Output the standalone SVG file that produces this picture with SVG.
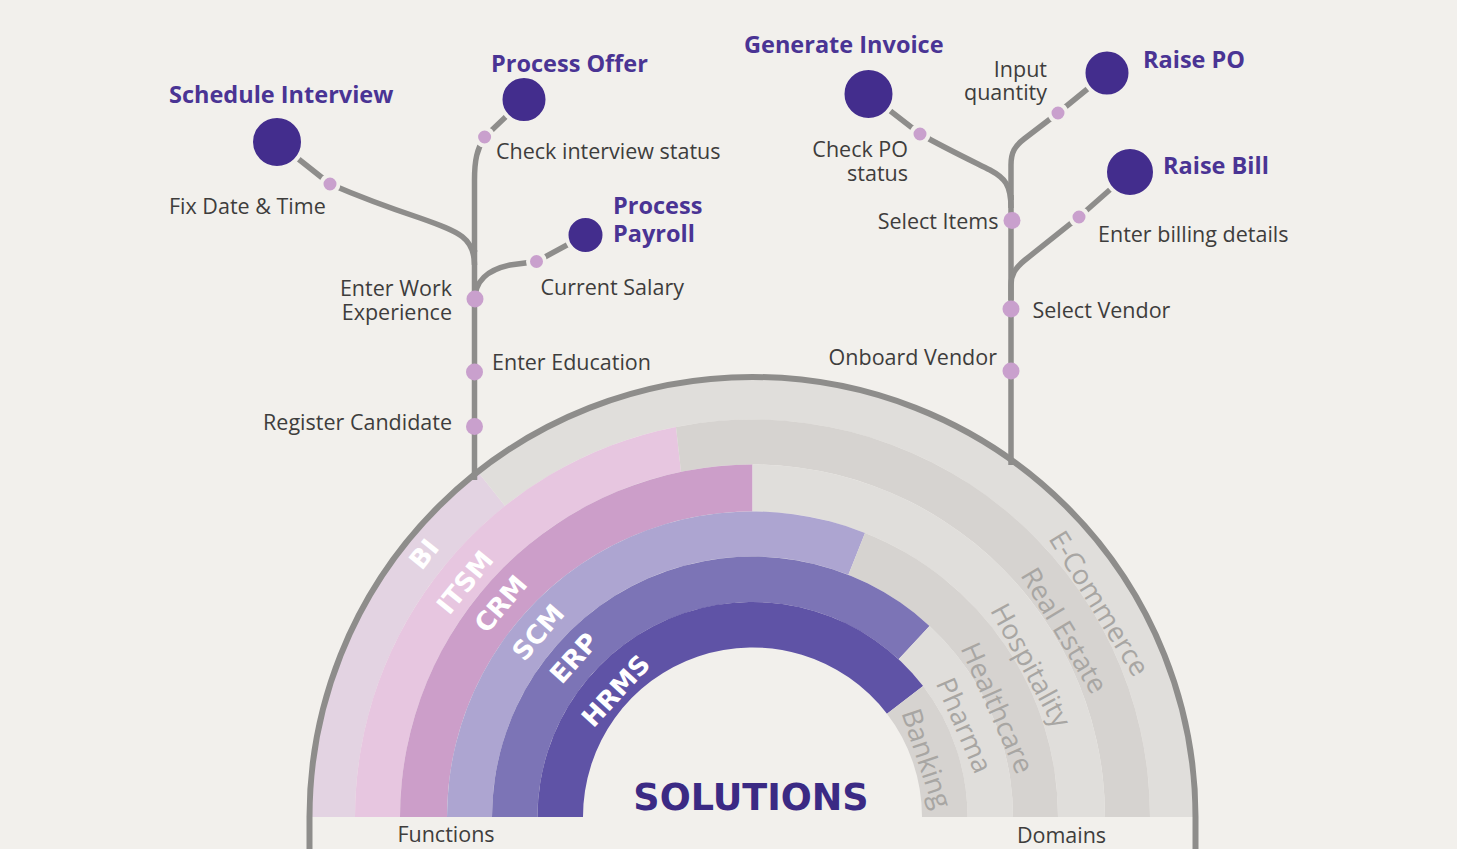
<svg xmlns="http://www.w3.org/2000/svg" width="1457" height="849" viewBox="0 0 1457 849">
<style>
.lbl{font-family:"Open Sans","Noto Sans",sans-serif;font-size:21.5px;fill:#3e3d3c}
.hd{font-family:"Open Sans","Noto Sans",sans-serif;font-size:23.5px;font-weight:700;fill:#4a3494}
.fn{font-family:"DejaVu Sans",sans-serif;font-size:26px;font-weight:700;fill:#ffffff}
.dm{font-family:"Open Sans","Noto Sans",sans-serif;font-size:27.5px;fill:#a8a6a3}
.ln{fill:none;stroke:#8e8d8b;stroke-width:5.5;stroke-linecap:butt}
.dot{fill:#c9a0cd}
.bdot{fill:#c9a0cd;stroke:#f2f0ec;stroke-width:4}
.ms{fill:#432d8d;stroke:#f2f0ec;stroke-width:4}
.g1{fill:#e0dedb}
.g2{fill:#d6d3d0}
</style>
<rect width="1457" height="849" fill="#f2f0ec"/>

<g id="rings">
  <g id="fn-bi"><path d="M311.5,817 A441,441 0 0 1 478.0,471.9 L505.1,505.9 A397.5,397.5 0 0 0 355,817 Z" fill="#e3d3e2"/></g>
  <g id="dm-ecommerce"><path class="g1" d="M478.0,471.9 A441,441 0 0 1 1193.5,817 L1150,817 A397.5,397.5 0 0 0 505.1,505.9 Z"/></g>
  <g id="fn-itsm"><path d="M355,817 A397.5,397.5 0 0 1 676,426.9 L681,471.8 A352.5,352.5 0 0 0 400,817 Z" fill="#e7c6e0"/></g>
  <g id="dm-realestate"><path class="g2" d="M676,426.9 A397.5,397.5 0 0 1 1150,817 L1105,817 A352.5,352.5 0 0 0 681,471.8 Z"/></g>
  <g id="fn-crm"><path d="M400,817 A352.5,352.5 0 0 1 752.5,464.5 L752.5,511.5 A305.5,305.5 0 0 0 447,817 Z" fill="#cc9ec9"/></g>
  <g id="dm-hospitality"><path class="g1" d="M752.5,464.5 A352.5,352.5 0 0 1 1105,817 L1058,817 A305.5,305.5 0 0 0 752.5,511.5 Z"/></g>
  <g id="fn-scm"><path d="M447,817 A305.5,305.5 0 0 1 865.0,532.9 L848.4,574.8 A260.5,260.5 0 0 0 492,817 Z" fill="#ada5d1"/></g>
  <g id="dm-healthcare"><path class="g2" d="M865.0,532.9 A305.5,305.5 0 0 1 1058,817 L1013,817 A260.5,260.5 0 0 0 848.4,574.8 Z"/></g>
  <g id="fn-erp"><path d="M492,817 A260.5,260.5 0 0 1 929.5,625.9 L898.6,659.3 A215,215 0 0 0 537.5,817 Z" fill="#7c74b6"/></g>
  <g id="dm-pharma"><path class="g1" d="M929.5,625.9 A260.5,260.5 0 0 1 1013,817 L967.5,817 A215,215 0 0 0 898.6,659.3 Z"/></g>
  <g id="fn-hrms"><path d="M537.5,817 A215,215 0 0 1 923.1,686.1 L887.0,713.8 A169.5,169.5 0 0 0 583,817 Z" fill="#5f53a6"/></g>
  <g id="dm-banking"><path class="g2" d="M923.1,686.1 A215,215 0 0 1 967.5,817 L922,817 A169.5,169.5 0 0 0 887.0,713.8 Z"/></g>
</g>

<g id="ring-labels">
  <text class="fn" transform="translate(424,554) rotate(-51.3)" text-anchor="middle" dominant-baseline="central">BI</text>
  <text class="fn" transform="translate(465,582.5) rotate(-50.8)" text-anchor="middle" dominant-baseline="central">ITSM</text>
  <text class="fn" transform="translate(500.8,604) rotate(-49.8)" text-anchor="middle" dominant-baseline="central">CRM</text>
  <text class="fn" transform="translate(538.3,632.5) rotate(-49.3)" text-anchor="middle" dominant-baseline="central">SCM</text>
  <text class="fn" transform="translate(574,658) rotate(-48.3)" text-anchor="middle" dominant-baseline="central">ERP</text>
  <text class="fn" transform="translate(615.8,690.8) rotate(-47.3)" text-anchor="middle" dominant-baseline="central">HRMS</text>
  <text class="dm" transform="translate(1100,603) rotate(58.4)" text-anchor="middle" dominant-baseline="central">E-Commerce</text>
  <text class="dm" transform="translate(1065,630) rotate(59.1)" text-anchor="middle" dominant-baseline="central">Real Estate</text>
  <text class="dm" transform="translate(1031.7,665) rotate(61.4)" text-anchor="middle" dominant-baseline="central">Hospitality</text>
  <text class="dm" transform="translate(998.3,707.5) rotate(66)" text-anchor="middle" dominant-baseline="central">Healthcare</text>
  <text class="dm" transform="translate(965,725) rotate(66.6)" text-anchor="middle" dominant-baseline="central">Pharma</text>
  <text class="dm" transform="translate(927.5,758.3) rotate(71.5)" text-anchor="middle" dominant-baseline="central">Banking</text>
</g>

<g id="connectors">
  <path class="ln" d="M474.5,480 L474.5,250"/>
  <path class="ln" d="M474.5,252 L474.5,180 C474.5,160 477,149 484.6,137 L524,99.5"/>
  <path class="ln" d="M474.5,265 C474.5,238 460,232 420,218 C390,208 360,197 330,184 L277,142"/>
  <path class="ln" d="M474.5,302 C474.5,280 488,270 510,265 L536.5,261.5 L585.5,235"/>
  <path class="ln" d="M1011,465 L1011,195"/>
  <path class="ln" d="M1011,200 L1011,165 C1011,152 1015,146 1024,139 L1058,113 L1107,73"/>
  <path class="ln" d="M1011,208 C1011,185 1005,178 990,170 C970,160 945,148 920,134 L868.5,94"/>
  <path class="ln" d="M1011,300 L1011,285 C1011,275 1015,268 1025,260 L1079,217 L1130,172"/>
  <path d="M309.5,849 L309.5,817 A443,440 0 0 1 1195.5,817 L1195.5,849" fill="none" stroke="#8e8d8b" stroke-width="6"/>
</g>

<g id="step-register-candidate"><circle class="dot" cx="474.5" cy="426.5" r="8.5"/><text class="lbl" x="452" y="430" text-anchor="end">Register Candidate</text></g>
<g id="step-enter-education"><circle class="dot" cx="474.5" cy="372" r="8.5"/><text class="lbl" x="492" y="370">Enter Education</text></g>
<g id="step-enter-work-experience"><circle class="dot" cx="475" cy="299" r="8.5"/><text class="lbl" text-anchor="end"><tspan x="452" y="296">Enter Work</tspan><tspan x="452" y="320">Experience</tspan></text></g>
<g id="step-current-salary"><circle class="bdot" cx="536.5" cy="261.5" r="8.5"/><text class="lbl" x="540.5" y="295">Current Salary</text></g>
<g id="step-fix-date"><circle class="bdot" cx="330" cy="184" r="8.5"/><text class="lbl" x="169" y="214">Fix Date &amp; Time</text></g>
<g id="step-check-interview"><circle class="bdot" cx="484.6" cy="137" r="8.5"/><text class="lbl" x="496" y="158.5">Check interview status</text></g>

<g id="ms-schedule-interview"><circle class="ms" cx="277" cy="142" r="26"/><text class="hd" x="169" y="102.7">Schedule Interview</text></g>
<g id="ms-process-offer"><circle class="ms" cx="524" cy="99.5" r="23.5"/><text class="hd" x="491" y="71.7">Process Offer</text></g>
<g id="ms-process-payroll"><circle class="ms" cx="585.5" cy="235" r="19"/><text class="hd"><tspan x="613" y="214">Process</tspan><tspan x="613" y="241.7">Payroll</tspan></text></g>

<g id="step-onboard-vendor"><circle class="dot" cx="1011" cy="371" r="8.5"/><text class="lbl" x="997" y="365" text-anchor="end">Onboard Vendor</text></g>
<g id="step-select-vendor"><circle class="dot" cx="1011" cy="309" r="8.5"/><text class="lbl" x="1032.5" y="317.7">Select Vendor</text></g>
<g id="step-select-items"><circle class="dot" cx="1012" cy="220.5" r="8.5"/><text class="lbl" x="998.5" y="229.3" text-anchor="end">Select Items</text></g>
<g id="step-billing-details"><circle class="bdot" cx="1079" cy="217" r="8.5"/><text class="lbl" x="1098" y="242">Enter billing details</text></g>
<g id="step-input-quantity"><circle class="bdot" cx="1058" cy="113" r="8.5"/><text class="lbl" text-anchor="end"><tspan x="1047" y="76.7">Input</tspan><tspan x="1047" y="100">quantity</tspan></text></g>
<g id="step-check-po"><circle class="bdot" cx="920" cy="134" r="8.5"/><text class="lbl" text-anchor="end"><tspan x="908" y="156.7">Check PO</tspan><tspan x="908" y="180.7">status</tspan></text></g>

<g id="ms-generate-invoice"><circle class="ms" cx="868.5" cy="94" r="26"/><text class="hd" x="744" y="53.3">Generate Invoice</text></g>
<g id="ms-raise-po"><circle class="ms" cx="1107" cy="73" r="23.5"/><text class="hd" x="1143" y="68.3">Raise PO</text></g>
<g id="ms-raise-bill"><circle class="ms" cx="1130" cy="172" r="25"/><text class="hd" x="1163" y="174">Raise Bill</text></g>

<g id="center-title"><text x="751" y="810" text-anchor="middle" font-family="'DejaVu Sans',sans-serif" font-size="36.5" font-weight="700" fill="#3b2a84">SOLUTIONS</text></g>
<g id="axis-labels">
  <text class="lbl" x="446" y="842" text-anchor="middle">Functions</text>
  <text class="lbl" x="1061.5" y="843" text-anchor="middle">Domains</text>
</g>
</svg>
